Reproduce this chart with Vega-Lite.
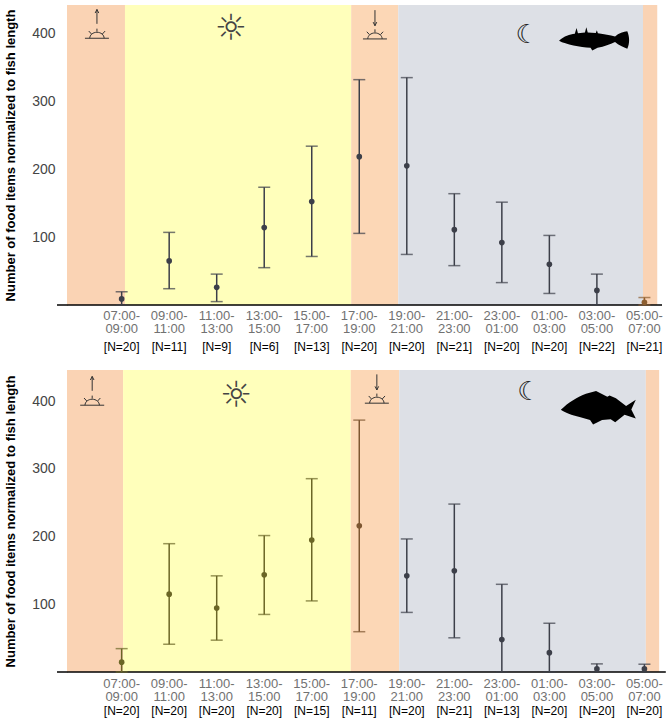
{
  "$schema": "https://vega.github.io/schema/vega-lite/v6.json",
  "padding": {"left": 4, "top": 5, "right": 5, "bottom": 5},
  "config": {"view": {"stroke": null}, "font": "Liberation Sans"},
  "spacing": 16,
  "datasets": {
    "top": [
      {"t": 0, "slot": "07:00-\n09:00", "n": "[N=20]", "mean": 9, "lo": 0, "hi": 19.5},
      {"t": 1, "slot": "09:00-\n11:00", "n": "[N=11]", "mean": 65, "lo": 24, "hi": 107},
      {"t": 2, "slot": "11:00-\n13:00", "n": "[N=9]", "mean": 26, "lo": 5, "hi": 45.5},
      {"t": 3, "slot": "13:00-\n15:00", "n": "[N=6]", "mean": 114, "lo": 55, "hi": 173.5},
      {"t": 4, "slot": "15:00-\n17:00", "n": "[N=13]", "mean": 152.5, "lo": 71.5, "hi": 234},
      {"t": 5, "slot": "17:00-\n19:00", "n": "[N=20]", "mean": 218.5, "lo": 105.5, "hi": 332},
      {"t": 6, "slot": "19:00-\n21:00", "n": "[N=20]", "mean": 205, "lo": 74.5, "hi": 335},
      {"t": 7, "slot": "21:00-\n23:00", "n": "[N=21]", "mean": 111, "lo": 58, "hi": 164},
      {"t": 8, "slot": "23:00-\n01:00", "n": "[N=20]", "mean": 92, "lo": 33, "hi": 151.5},
      {"t": 9, "slot": "01:00-\n03:00", "n": "[N=20]", "mean": 60, "lo": 17, "hi": 102.5},
      {"t": 10, "slot": "03:00-\n05:00", "n": "[N=22]", "mean": 21.5, "lo": 0, "hi": 45.5},
      {"t": 11, "slot": "05:00-\n07:00", "n": "[N=21]", "mean": 4, "lo": 0, "hi": 11}
    ],
    "bottom": [
      {"t": 0, "slot": "07:00-\n09:00", "n": "[N=20]", "mean": 14.5, "lo": 0, "hi": 34.5},
      {"t": 1, "slot": "09:00-\n11:00", "n": "[N=20]", "mean": 115, "lo": 41, "hi": 189.5},
      {"t": 2, "slot": "11:00-\n13:00", "n": "[N=20]", "mean": 94.5, "lo": 47, "hi": 142},
      {"t": 3, "slot": "13:00-\n15:00", "n": "[N=20]", "mean": 143.5, "lo": 85, "hi": 201.5},
      {"t": 4, "slot": "15:00-\n17:00", "n": "[N=15]", "mean": 195, "lo": 105, "hi": 285.5},
      {"t": 5, "slot": "17:00-\n19:00", "n": "[N=11]", "mean": 216, "lo": 59.5, "hi": 372},
      {"t": 6, "slot": "19:00-\n21:00", "n": "[N=20]", "mean": 142, "lo": 88, "hi": 196.5},
      {"t": 7, "slot": "21:00-\n23:00", "n": "[N=21]", "mean": 149.5, "lo": 50.5, "hi": 248},
      {"t": 8, "slot": "23:00-\n01:00", "n": "[N=13]", "mean": 48, "lo": 0, "hi": 129.5},
      {"t": 9, "slot": "01:00-\n03:00", "n": "[N=20]", "mean": 28.5, "lo": 0, "hi": 72},
      {"t": 10, "slot": "03:00-\n05:00", "n": "[N=20]", "mean": 4.5, "lo": 0, "hi": 12},
      {"t": 11, "slot": "05:00-\n07:00", "n": "[N=20]", "mean": 4.5, "lo": 0, "hi": 11.5}
    ],
    "bandsTop": [
      {"period": "sunrise", "start": -1.15, "end": 0.07},
      {"period": "day", "start": 0.07, "end": 4.83},
      {"period": "sunset", "start": 4.83, "end": 5.82},
      {"period": "night", "start": 5.82, "end": 10.97},
      {"period": "sunrise", "start": 10.97, "end": 11.27}
    ],
    "bandsBottom": [
      {"period": "sunrise", "start": -1.15, "end": 0.03},
      {"period": "day", "start": 0.03, "end": 4.82},
      {"period": "sunset", "start": 4.82, "end": 5.84},
      {"period": "night", "start": 5.84, "end": 11.03},
      {"period": "sunrise", "start": 11.03, "end": 11.31}
    ]
  },
  "vconcat": [
    {
      "width": 595,
      "height": 300,
      "layer": [
        {
          "data": {"name": "bandsTop"},
          "mark": {"type": "rect"},
          "encoding": {
            "x": {"field": "start", "type": "quantitative", "scale": {"domain": [-1.15, 11.37], "nice": false, "zero": false}, "axis": null},
            "x2": {"field": "end"},
            "y": {"datum": 0, "type": "quantitative", "scale": {"domain": [0, 442], "nice": false},
              "axis": {"title": "Number of food items normalized to fish length", "values": [100, 200, 300, 400], "ticks": false, "grid": false,
                "domainColor": "#9a9a9a", "labelFont": "Liberation Sans", "labelFontSize": 14, "labelColor": "#444444", "labelPadding": 12,
                "titleFont": "Liberation Sans", "titleFontSize": 13, "titleFontWeight": "bold", "titleColor": "#000000", "titlePadding": 14}},
            "y2": {"datum": 442},
            "color": {"field": "period", "type": "nominal", "legend": null,
              "scale": {"domain": ["sunrise", "day", "sunset", "night"], "range": ["#fad3b4", "#ffffbb", "#fcd7b6", "#dde0e6"]}}
          }
        },
        {
          "data": {"values": [{}]},
          "mark": {"type": "rule", "color": "#000000", "strokeWidth": 1.5},
          "encoding": {"x": {"datum": -1.36}, "x2": {"datum": 11.37}, "y": {"datum": 0}}
        },
        {
          "data": {"name": "top"},
          "mark": {"type": "rule", "strokeWidth": 1.5},
          "encoding": {
            "x": {"field": "t", "type": "quantitative"},
            "y": {"field": "lo", "type": "quantitative"},
            "y2": {"field": "hi"},
            "color": {"condition": {"test": "datum.t == 11", "value": "#8d5e30"}, "value": "#3c3f49"}
          }
        },
        {
          "data": {"name": "top"},
          "mark": {"type": "tick", "orient": "horizontal", "size": 12, "thickness": 1.5},
          "encoding": {
            "x": {"field": "t", "type": "quantitative"},
            "y": {"field": "hi", "type": "quantitative"},
            "color": {"condition": {"test": "datum.t == 11", "value": "#8d5e30"}, "value": "#3c3f49"}
          }
        },
        {
          "data": {"name": "top"},
          "mark": {"type": "tick", "orient": "horizontal", "size": 12, "thickness": 1.5},
          "encoding": {
            "x": {"field": "t", "type": "quantitative"},
            "y": {"field": "lo", "type": "quantitative"},
            "color": {"condition": {"test": "datum.t == 11", "value": "#8d5e30"}, "value": "#3c3f49"}
          }
        },
        {
          "data": {"name": "top"},
          "mark": {"type": "circle", "size": 32, "opacity": 1},
          "encoding": {
            "x": {"field": "t", "type": "quantitative"},
            "y": {"field": "mean", "type": "quantitative"},
            "color": {"condition": {"test": "datum.t == 11", "value": "#8d5e30"}, "value": "#3c3f49"}
          }
        },
        {
          "data": {"name": "top"},
          "mark": {"type": "text", "lineBreak": "\n", "fontSize": 13, "lineHeight": 13.5, "color": "#717171", "baseline": "middle"},
          "encoding": {
            "x": {"field": "t", "type": "quantitative"},
            "y": {"datum": -16.2},
            "text": {"field": "slot"}
          }
        },
        {
          "data": {"name": "top"},
          "mark": {"type": "text", "font": "Liberation Sans", "fontSize": 12, "color": "#000000", "baseline": "middle"},
          "encoding": {
            "x": {"field": "t", "type": "quantitative"},
            "y": {"datum": -62.5},
            "text": {"field": "n"}
          }
        },
        {
          "data": {"values": [{}]},
          "mark": {"type": "point", "filled": false, "color": "#333333", "strokeWidth": 1, "opacity": 1, "size": 576,
            "shape": "M -1 0 L 1 0 M -0.6 0 A 0.6 0.5 0 0 1 0.6 0 M 0 -0.55 L 0 -0.8 M -0.45 -0.35 L -0.68 -0.6 M 0.45 -0.35 L 0.68 -0.6 M 0 -1.2 L 0 -2.4 M -0.15 -2.1 L 0 -2.4 L 0.15 -2.1"},
          "encoding": {"x": {"datum": -0.52}, "y": {"datum": 393}}
        },
        {
          "data": {"values": [{}]},
          "mark": {"type": "point", "filled": false, "color": "#333333", "strokeWidth": 1, "opacity": 1, "size": 576,
            "shape": "M -1 0 L 1 0 M -0.6 0 A 0.6 0.5 0 0 1 0.6 0 M 0 -0.55 L 0 -0.8 M -0.45 -0.35 L -0.68 -0.6 M 0.45 -0.35 L 0.68 -0.6 M 0 -2.4 L 0 -1.1 M -0.15 -1.4 L 0 -1.1 L 0.15 -1.4"},
          "encoding": {"x": {"datum": 5.33}, "y": {"datum": 392}}
        },
        {
          "data": {"values": [{}]},
          "mark": {"type": "text", "text": "☼", "font": "DejaVu Sans", "fontSize": 36, "color": "#444444", "baseline": "middle"},
          "encoding": {"x": {"datum": 2.3}, "y": {"datum": 407}}
        },
        {
          "data": {"values": [{}]},
          "mark": {"type": "text", "text": "☾", "font": "DejaVu Sans", "fontSize": 26, "color": "#222222", "baseline": "middle"},
          "encoding": {"x": {"datum": 8.53}, "y": {"datum": 398}}
        },
        {
          "data": {"values": [{}]},
          "mark": {"type": "point", "filled": true, "color": "#000000", "opacity": 1, "size": 4900, "strokeWidth": 0,
            "shape": "M -1 0.06 C -0.85 -0.08 -0.7 -0.12 -0.55 -0.14 L -0.5 -0.3 L -0.46 -0.15 L -0.26 -0.17 L -0.22 -0.32 L -0.18 -0.17 L 0.05 -0.16 L 0.08 -0.24 L 0.11 -0.15 C 0.3 -0.13 0.45 -0.09 0.6 -0.06 C 0.7 -0.15 0.85 -0.21 0.95 -0.21 C 1.02 -0.05 1.02 0.15 0.95 0.29 C 0.85 0.26 0.7 0.19 0.6 0.1 C 0.45 0.16 0.3 0.24 0.1 0.26 L -0.05 0.34 L -0.1 0.26 C -0.4 0.24 -0.8 0.17 -1 0.06 Z"},
          "encoding": {"x": {"datum": 9.94}, "y": {"datum": 392.6}}
        }
      ]
    },
    {
      "width": 595,
      "height": 302,
      "layer": [
        {
          "data": {"name": "bandsBottom"},
          "mark": {"type": "rect"},
          "encoding": {
            "x": {"field": "start", "type": "quantitative", "scale": {"domain": [-1.15, 11.37], "nice": false, "zero": false}, "axis": null},
            "x2": {"field": "end"},
            "y": {"datum": 0, "type": "quantitative", "scale": {"domain": [0, 446], "nice": false},
              "axis": {"title": "Number of food items normalized to fish length", "values": [100, 200, 300, 400], "ticks": false, "grid": false,
                "domainColor": "#9a9a9a", "labelFont": "Liberation Sans", "labelFontSize": 14, "labelColor": "#444444", "labelPadding": 12,
                "titleFont": "Liberation Sans", "titleFontSize": 13, "titleFontWeight": "bold", "titleColor": "#000000", "titlePadding": 14}},
            "y2": {"datum": 446},
            "color": {"field": "period", "type": "nominal", "legend": null,
              "scale": {"domain": ["sunrise", "day", "sunset", "night"], "range": ["#fad3b4", "#ffffbb", "#fcd7b6", "#dde0e6"]}}
          }
        },
        {
          "data": {"values": [{}]},
          "mark": {"type": "rule", "color": "#000000", "strokeWidth": 1.5},
          "encoding": {"x": {"datum": -1.36}, "x2": {"datum": 11.45}, "y": {"datum": 0}}
        },
        {
          "data": {"name": "bottom"},
          "mark": {"type": "rule", "strokeWidth": 1.5},
          "encoding": {
            "x": {"field": "t", "type": "quantitative"},
            "y": {"field": "lo", "type": "quantitative"},
            "y2": {"field": "hi"},
            "color": {"condition": [{"test": "datum.t <= 4", "value": "#6b6626"}, {"test": "datum.t == 5", "value": "#7d5631"}], "value": "#3c3f49"}
          }
        },
        {
          "data": {"name": "bottom"},
          "mark": {"type": "tick", "orient": "horizontal", "size": 12, "thickness": 1.5},
          "encoding": {
            "x": {"field": "t", "type": "quantitative"},
            "y": {"field": "hi", "type": "quantitative"},
            "color": {"condition": [{"test": "datum.t <= 4", "value": "#6b6626"}, {"test": "datum.t == 5", "value": "#7d5631"}], "value": "#3c3f49"}
          }
        },
        {
          "data": {"name": "bottom"},
          "mark": {"type": "tick", "orient": "horizontal", "size": 12, "thickness": 1.5},
          "encoding": {
            "x": {"field": "t", "type": "quantitative"},
            "y": {"field": "lo", "type": "quantitative"},
            "color": {"condition": [{"test": "datum.t <= 4", "value": "#6b6626"}, {"test": "datum.t == 5", "value": "#7d5631"}], "value": "#3c3f49"}
          }
        },
        {
          "data": {"name": "bottom"},
          "mark": {"type": "circle", "size": 32, "opacity": 1},
          "encoding": {
            "x": {"field": "t", "type": "quantitative"},
            "y": {"field": "mean", "type": "quantitative"},
            "color": {"condition": [{"test": "datum.t <= 4", "value": "#6b6626"}, {"test": "datum.t == 5", "value": "#7d5631"}], "value": "#3c3f49"}
          }
        },
        {
          "data": {"name": "bottom"},
          "mark": {"type": "text", "lineBreak": "\n", "fontSize": 13, "lineHeight": 13.5, "color": "#717171", "baseline": "middle"},
          "encoding": {
            "x": {"field": "t", "type": "quantitative"},
            "y": {"datum": -17.1},
            "text": {"field": "slot"}
          }
        },
        {
          "data": {"name": "bottom"},
          "mark": {"type": "text", "font": "Liberation Sans", "fontSize": 12, "color": "#000000", "baseline": "middle"},
          "encoding": {
            "x": {"field": "t", "type": "quantitative"},
            "y": {"datum": -57.5},
            "text": {"field": "n"}
          }
        },
        {
          "data": {"values": [{}]},
          "mark": {"type": "point", "filled": false, "color": "#333333", "strokeWidth": 1, "opacity": 1, "size": 576,
            "shape": "M -1 0 L 1 0 M -0.6 0 A 0.6 0.5 0 0 1 0.6 0 M 0 -0.55 L 0 -0.8 M -0.45 -0.35 L -0.68 -0.6 M 0.45 -0.35 L 0.68 -0.6 M 0 -1.2 L 0 -2.4 M -0.15 -2.1 L 0 -2.4 L 0.15 -2.1"},
          "encoding": {"x": {"datum": -0.62}, "y": {"datum": 394}}
        },
        {
          "data": {"values": [{}]},
          "mark": {"type": "point", "filled": false, "color": "#333333", "strokeWidth": 1, "opacity": 1, "size": 576,
            "shape": "M -1 0 L 1 0 M -0.6 0 A 0.6 0.5 0 0 1 0.6 0 M 0 -0.55 L 0 -0.8 M -0.45 -0.35 L -0.68 -0.6 M 0.45 -0.35 L 0.68 -0.6 M 0 -2.4 L 0 -1.1 M -0.15 -1.4 L 0 -1.1 L 0.15 -1.4"},
          "encoding": {"x": {"datum": 5.37}, "y": {"datum": 397}}
        },
        {
          "data": {"values": [{}]},
          "mark": {"type": "text", "text": "☼", "font": "DejaVu Sans", "fontSize": 36, "color": "#444444", "baseline": "middle"},
          "encoding": {"x": {"datum": 2.41}, "y": {"datum": 408}}
        },
        {
          "data": {"values": [{}]},
          "mark": {"type": "text", "text": "☾", "font": "DejaVu Sans", "fontSize": 26, "color": "#222222", "baseline": "middle"},
          "encoding": {"x": {"datum": 8.57}, "y": {"datum": 414}}
        },
        {
          "data": {"values": [{}]},
          "mark": {"type": "point", "filled": true, "color": "#000000", "opacity": 1, "size": 5625, "strokeWidth": 0,
            "shape": "M -1 0.05 C -0.8 -0.15 -0.55 -0.3 -0.33 -0.38 L -0.06 -0.45 L 0.24 -0.3 L 0.3 -0.33 L 0.47 -0.26 L 0.74 -0.05 L 1 -0.22 L 0.88 0.04 L 1 0.28 L 0.7 0.18 L 0.45 0.38 L 0.33 0.3 L 0.1 0.32 L -0.14 0.44 L -0.22 0.32 L -0.5 0.24 C -0.7 0.2 -0.9 0.12 -1 0.05 Z"},
          "encoding": {"x": {"datum": 10.03}, "y": {"datum": 390}}
        }
      ]
    }
  ]
}
